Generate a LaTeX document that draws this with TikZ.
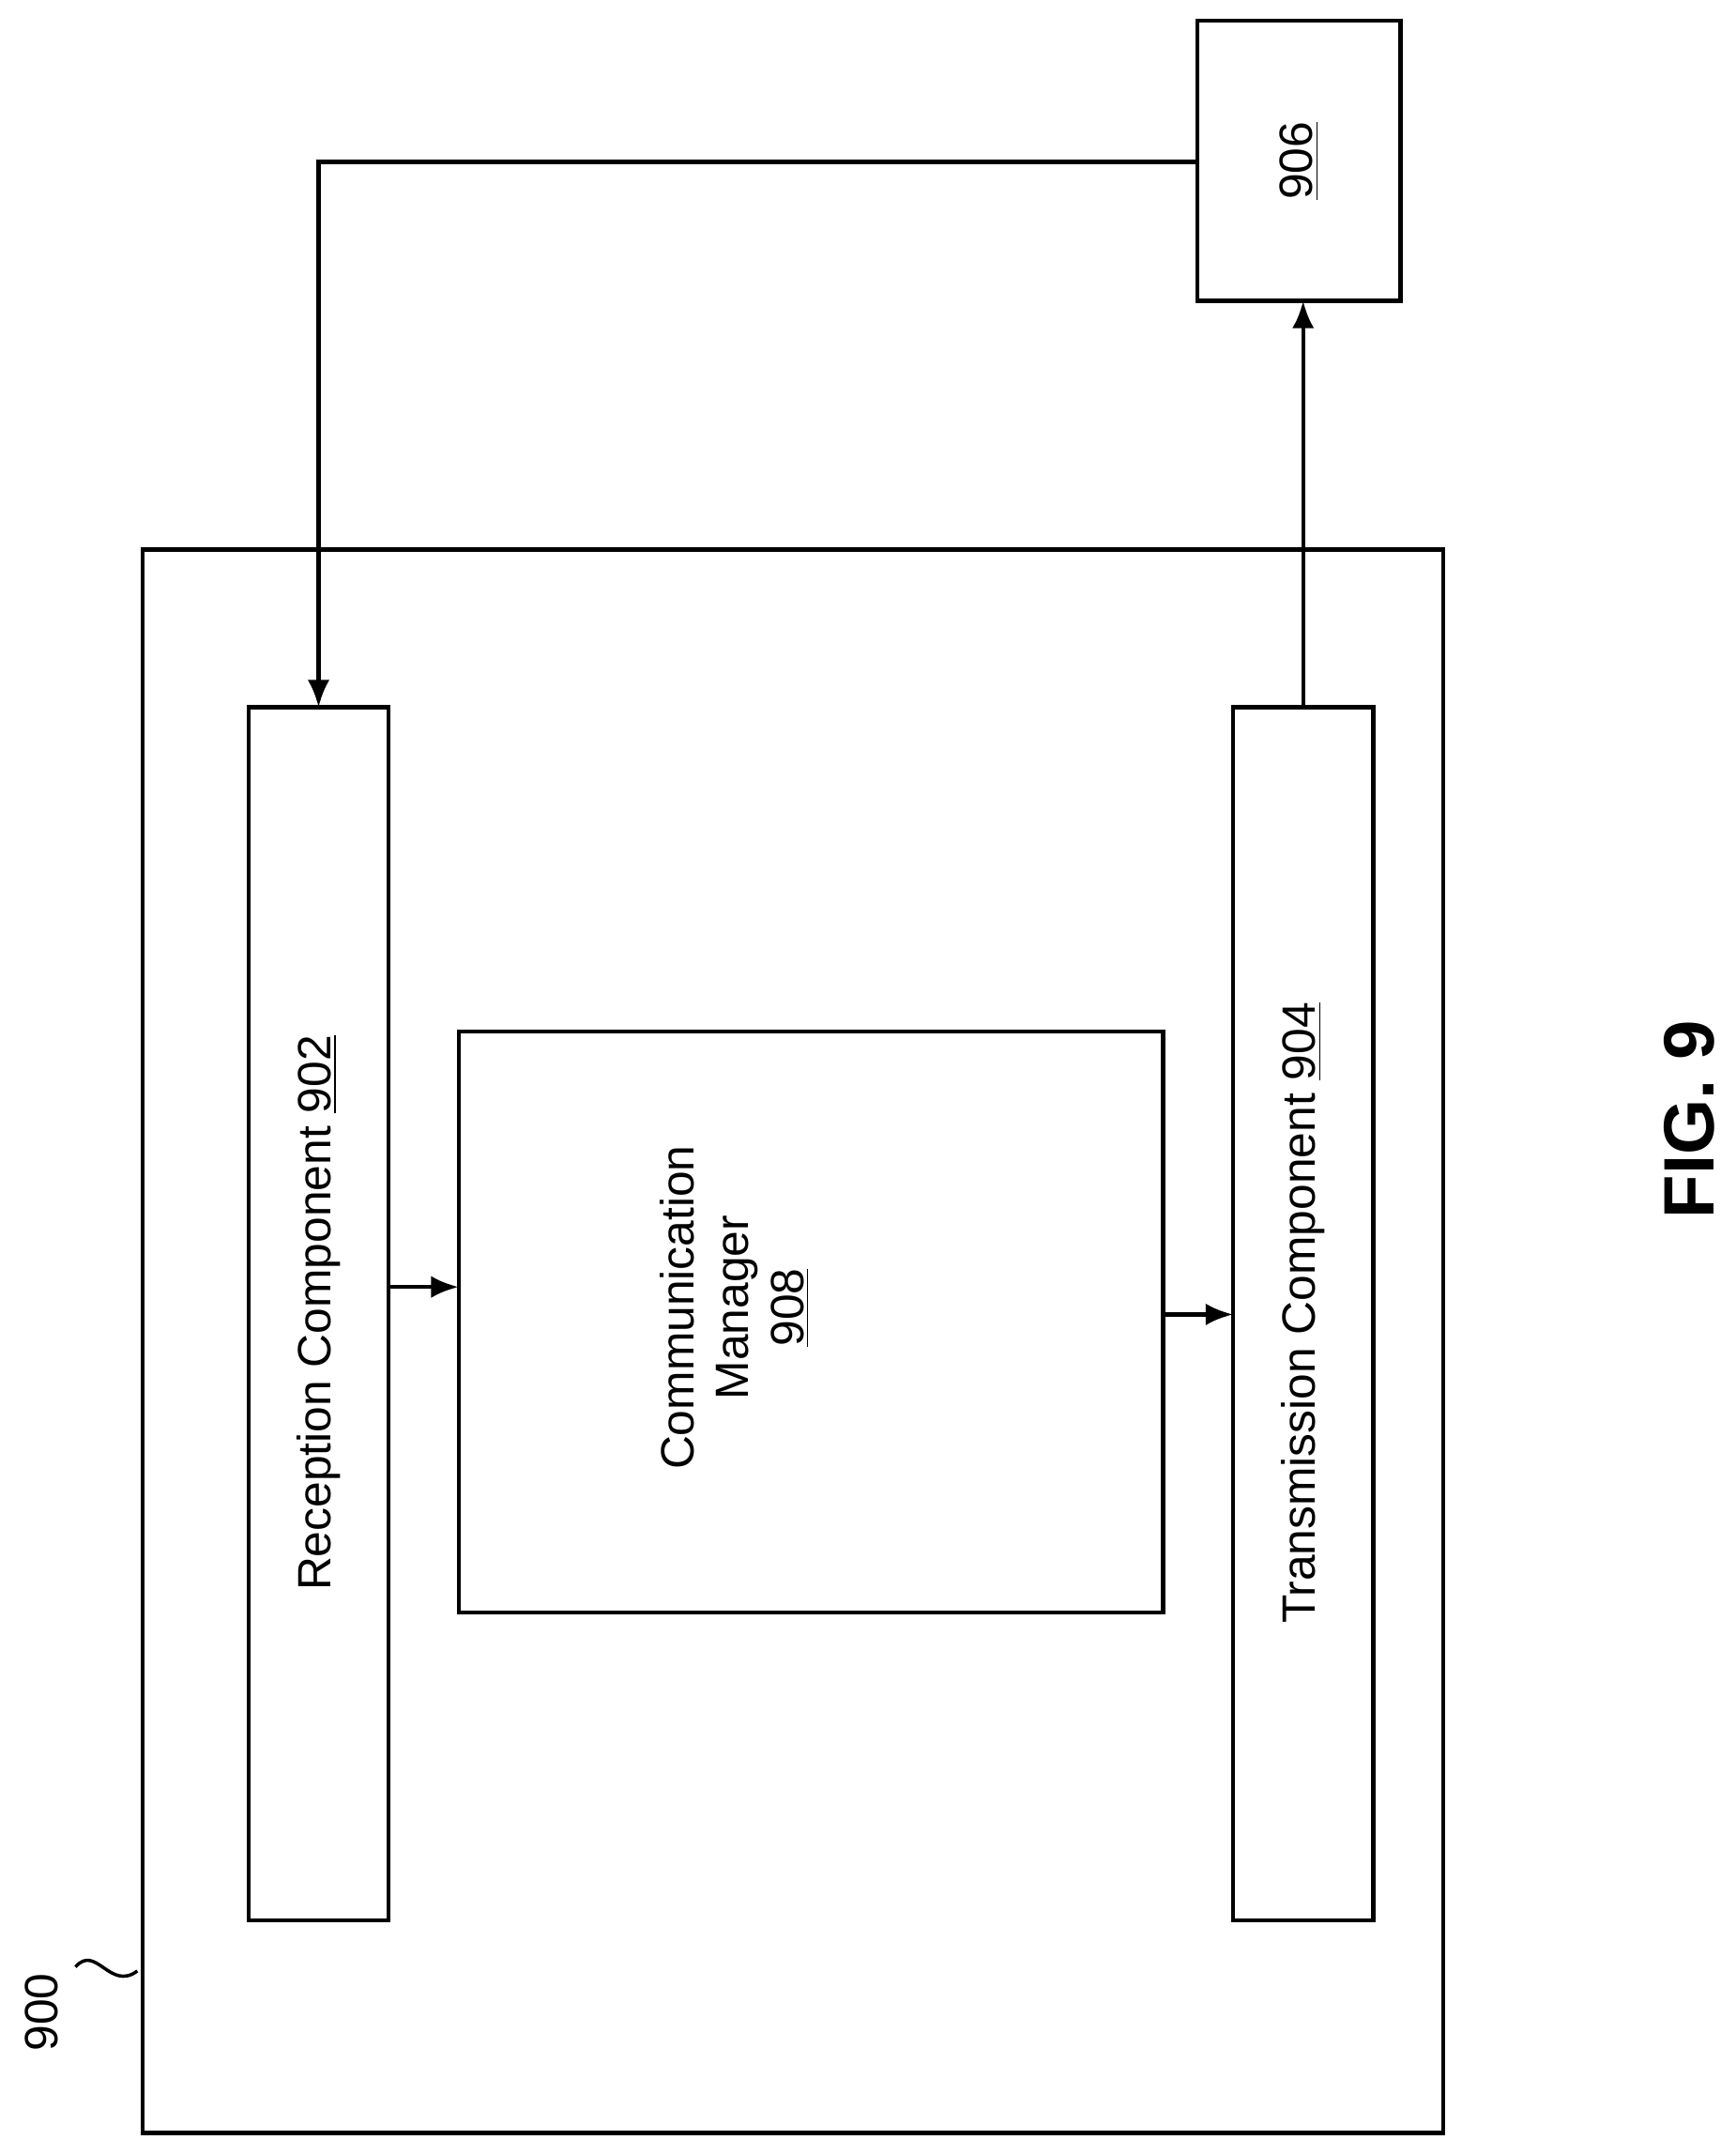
\documentclass[tikz,border=0pt]{standalone}
\usepackage{fontspec}
\setmainfont{Liberation Sans}
\usetikzlibrary{arrows.meta}
\begin{document}
\begin{tikzpicture}[x=0.5pt,y=-0.5pt,
  box/.style={draw,line width=1.5pt},
  conn/.style={line width=1.5pt,-{Latex[length=10pt,width=8pt]}},
  lbl/.style={rotate=90,font=\fontsize{17}{20}\selectfont,align=center}]
\useasboundingbox (0,0) rectangle (1264,1569);
\draw[box] (104,400) rectangle (1051,1553);
\draw[box] (181,515) rectangle (283,1398);
\node[lbl] (rc) at (232,956) {Reception Component \underline{902}};
\draw[box] (334,751) rectangle (847,1174);
\node[lbl] (cm) at (535,952) {Communication\\Manager\\\underline{908}};
\draw[box] (898,515) rectangle (1000,1398);
\node[lbl] (tc) at (949,956) {Transmission Component \underline{904}};
\draw[box] (872,15) rectangle (1020,219);
\node[lbl] (n906) at (946,117) {\underline{906}};
\coordinate (a1) at (872,118);
\coordinate (a2) at (232,118);
\coordinate (a3) at (232,515);
\draw[conn] (a1) -- (a2) -- (a3);
\coordinate (b1) at (949,515);
\coordinate (b2) at (949,219);
\draw[conn] (b1) -- (b2);
\coordinate (c1) at (283,937);
\coordinate (c2) at (334,937);
\draw[conn] (c1) -- (c2);
\coordinate (d1) at (847,957);
\coordinate (d2) at (898,957);
\draw[conn] (d1) -- (d2);
\node[rotate=90,font=\fontsize{26}{30}\selectfont\bfseries] (fig) at (1230,815) {FIG. 9};
\node[rotate=90,font=\fontsize{17}{20}\selectfont] (n900) at (30,1465) {900};
\draw[line width=1.2pt] (55,1432) .. controls (70,1415) and (80,1450) .. (100,1435);
\end{tikzpicture}
\end{document}
